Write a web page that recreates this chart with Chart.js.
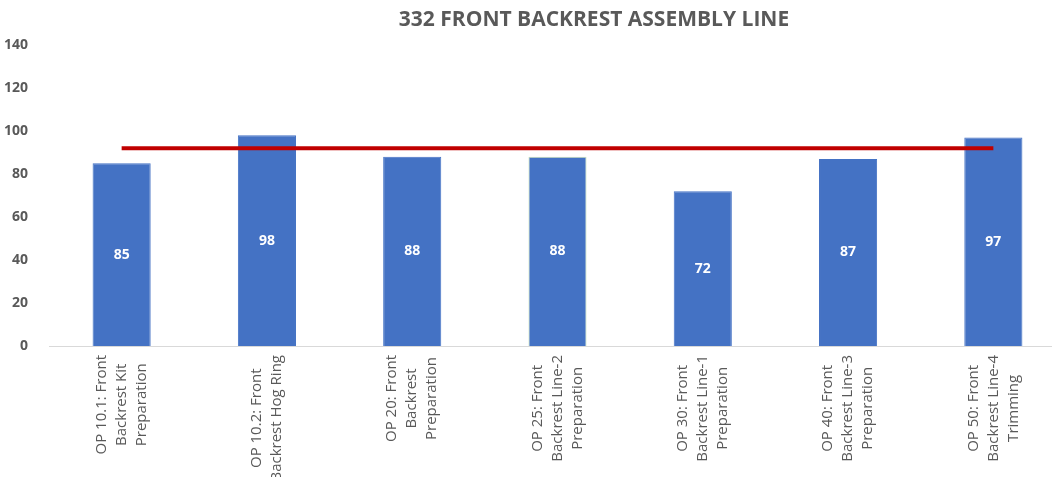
<!DOCTYPE html>
<html>
<head>
<meta charset="utf-8">
<script src="https://cdn.jsdelivr.net/npm/chart.js@4"></script>
<style>
  html, body { margin: 0; padding: 0; background: #fff; overflow: hidden; }
  #wrap { width: 1070px; height: 477px; }
</style>
</head>
<body>
<div id="wrap"><canvas id="chart" width="1070" height="477"></canvas></div>
<script>
const FONT = '"Open Sans", sans-serif';
const GREY = "#595959";

const titleText = "332 FRONT BACKREST ASSEMBLY LINE";
const categories = [
  ["OP 10.1: Front", "Backrest Kit", "Preparation"],
  ["OP 10.2: Front", "Backrest Hog Ring"],
  ["OP 20: Front", "Backrest", "Preparation"],
  ["OP 25: Front", "Backrest Line-2", "Preparation"],
  ["OP 30: Front", "Backrest Line-1", "Preparation"],
  ["OP 40: Front", "Backrest Line-3", "Preparation"],
  ["OP 50: Front", "Backrest Line-4", "Trimming"]
];
const actual = [85, 98, 88, 88, 72, 87, 97];
const target = [92, 92, 92, 92, 92, 92, 92];
const yTicks = [0, 20, 40, 60, 80, 100, 120, 140];

const barBorders = ["#4472C4", "#4472C4", "#4472C4", "#C5E0B4", "#4472C4", "#4472C4", "#4472C4"];

// title + rotated category labels + values inside bars
const drawText = {
  id: "drawText",
  afterDatasetsDraw(chart) {
    const c = chart.ctx;
    c.save();

    // value labels in the middle of each bar
    const bars = chart.getDatasetMeta(1).data;
    c.fillStyle = "#fff";
    c.font = "bold 14px " + FONT;
    c.textAlign = "center";
    c.textBaseline = "middle";
    bars.forEach((el, i) => {
      c.fillText(actual[i], el.x, (el.y + el.base) / 2);
    });

    // title
    c.fillStyle = GREY;
    c.font = "bold 21px " + FONT;
    c.fillText(titleText, 594, 20);

    // x labels, read bottom to top, lines centred on the longest one
    const xs = chart.scales.x;
    const top = xs.top + 9;
    c.font = "15px " + FONT;
    categories.forEach((lines, i) => {
      const x = xs.getPixelForValue(i);
      const maxW = Math.max(...lines.map(s => c.measureText(s).width));
      c.save();
      c.translate(x, top + maxW / 2);
      c.rotate(-Math.PI / 2);
      lines.forEach((s, j) => {
        const dy = (j - (lines.length - 1) / 2) * 20;
        c.fillText(s, 0, dy);
      });
      c.restore();
    });

    c.restore();
  }
};

new Chart(document.getElementById("chart"), {
  data: {
    labels: categories.map(l => l.join(" ")),
    datasets: [
      {
        type: "line",
        data: target,
        borderColor: "#C00000",
        borderWidth: 4,
        pointRadius: 0,
        order: 0
      },
      {
        type: "bar",
        data: actual,
        backgroundColor: "#4472C4",
        borderColor: barBorders,
        borderWidth: 1,
        categoryPercentage: 1,
        barPercentage: 0.4,
        order: 1
      }
    ]
  },
  options: {
    responsive: false,
    animation: false,
    devicePixelRatio: 1,
    layout: { padding: { top: 45, right: 4, bottom: 123, left: 0 } },
    plugins: {
      legend: { display: false },
      title: { display: false },
      tooltip: { enabled: false }
    },
    scales: {
      x: {
        grid: { display: false },
        border: { display: true, color: "#D9D9D9", width: 1 },
        ticks: { display: false }
      },
      y: {
        min: 0,
        max: 140,
        afterBuildTicks(scale) {
          scale.ticks = yTicks.map(v => ({ value: v }));
        },
        afterFit(scale) { scale.width = 49; },
        grid: { display: false },
        border: { display: false },
        ticks: {
          color: GREY,
          padding: 13,
          font: { family: FONT, size: 14, weight: "bold" }
        }
      }
    }
  },
  plugins: [drawText]
});
</script>
</body>
</html>
